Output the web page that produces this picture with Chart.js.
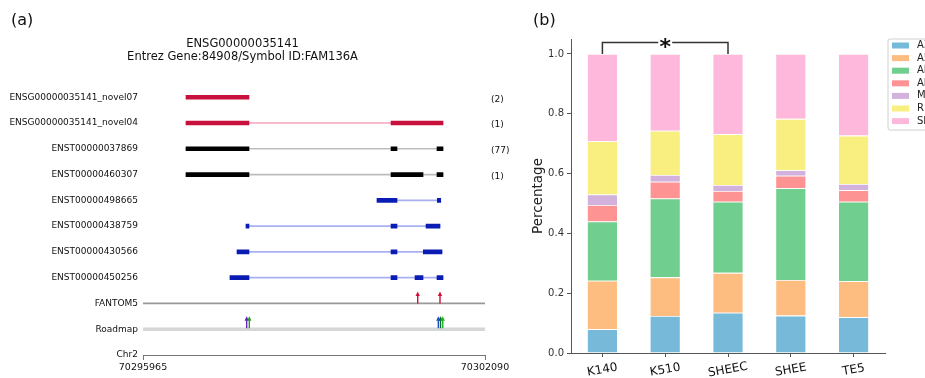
<!DOCTYPE html>
<html>
<head>
<meta charset="utf-8">
<script src="https://cdn.jsdelivr.net/npm/chart.js@4.4.1/dist/chart.umd.min.js"></script>
<style>
  body { margin: 0; width: 925px; height: 378px; overflow: hidden; position: relative; background: #fff; font-family: 'DejaVu Sans', sans-serif; }
  .panel-tag { position: absolute; top: 10px; font-size: 16px; line-height: 20px; color: #111; }
  #wrapA { position: absolute; left: 0; top: 0; width: 534px; height: 378px; }
  #wrapB { position: absolute; left: 510px; top: 0; width: 415px; height: 378px; }
</style>
</head>
<body>
<div id="wrapA"><canvas id="geneChart"></canvas></div>
<div id="wrapB"><canvas id="spliceChart"></canvas></div>
<div class="panel-tag" style="left:11px">(a)</div>
<div class="panel-tag" style="left:533px">(b)</div>
<script>
// ---- (a) transcript structures ----
const chrRange = [70295965, 70302090];
const transcripts = [
    'ENSG00000035141_novel07', 'ENSG00000035141_novel04',
    'ENST00000037869', 'ENST00000460307', 'ENST00000498665',
    'ENST00000438759', 'ENST00000430566', 'ENST00000450256'
];
const transcriptType = ['novel', 'novel', 'known', 'known', 'alt', 'alt', 'alt', 'alt'];
const readCounts = ['(2)', '(1)', '(77)', '(1)', '', '', '', ''];
const exons = [
    [[70296735, 70297863]],
    [[70296735, 70297863], [70300407, 70301338]],
    [[70296735, 70297863], [70300407, 70300514], [70301230, 70301338]],
    [[70296735, 70297863], [70300407, 70300980], [70301230, 70301338]],
    [[70300156, 70300514], [70301236, 70301297]],
    [[70297810, 70297863], [70300407, 70300514], [70301034, 70301284]],
    [[70297649, 70297863], [70300407, 70300514], [70300985, 70301320]],
    [[70297523, 70297863], [70300407, 70300514], [70300837, 70300980], [70301230, 70301338]]
];
const trackNames = ['FANTOM5', 'Roadmap', 'Chr2'];
const fantomSites = [70300885, 70301284];
const roadmapSites = [70297822, 70297869, 70301254, 70301293, 70301333];

// ---- (b) splicing event composition ----
const cellLines = ['K140', 'K510', 'SHEEC', 'SHEE', 'TE5'];
const eventTypes = ['A3', 'A5', 'AF', 'AL', 'MX', 'RI', 'SE'];
const A3 = [0.080, 0.124, 0.135, 0.125, 0.120];
const A5 = [0.162, 0.129, 0.133, 0.119, 0.120];
const AF = [0.198, 0.264, 0.238, 0.307, 0.266];
const AL = [0.055, 0.056, 0.036, 0.042, 0.038];
const MX = [0.035, 0.022, 0.020, 0.018, 0.021];
const RI = [0.178, 0.148, 0.170, 0.172, 0.162];
const SE = [0.292, 0.257, 0.268, 0.217, 0.273];
const yTicks = [0, 0.2, 0.4, 0.6, 0.8, 1.0];
const sigPair = [0, 2];
const sigLevel = 1.038;

const FONT = "'DejaVu Sans', sans-serif";

document.addEventListener('DOMContentLoaded', function () {
    const typeStyle = {
        novel: { exon: '#c8103c', line: '#f3a3b8' },
        known: { exon: '#000000', line: '#bdbdbd' },
        alt:   { exon: '#0a1cb4', line: '#a9b0f2' }
    };
    const rowLabels = transcripts.concat(trackNames);

    const geneSets = [];
    Object.keys(typeStyle).forEach(function (t) {
        const lines = [], blocks = [];
        transcripts.forEach(function (name, i) {
            if (transcriptType[i] !== t) return;
            const ex = exons[i];
            if (ex.length > 1) lines.push({ y: i, x: [ex[0][0], ex[ex.length - 1][1]] });
            ex.forEach(function (e) { blocks.push({ y: i, x: e }); });
        });
        geneSets.push({ data: lines, backgroundColor: typeStyle[t].line, barThickness: 1, order: 2 });
        geneSets.push({ data: blocks, backgroundColor: typeStyle[t].exon, barThickness: 4, order: 1 });
    });
    // FANTOM5 and Roadmap track lines
    geneSets.push({ data: [{ y: transcripts.length, x: chrRange }], backgroundColor: '#999999', barThickness: 1, order: 3 });
    geneSets.push({ data: [{ y: transcripts.length + 1, x: chrRange }], backgroundColor: '#d6d6d6', barThickness: 3, order: 3 });

    function arrow(ctx, x, yBase, color) {
        ctx.strokeStyle = color;
        ctx.fillStyle = color;
        ctx.lineWidth = 1.4;
        ctx.beginPath();
        ctx.moveTo(x, yBase);
        ctx.lineTo(x, yBase - 8);
        ctx.stroke();
        ctx.beginPath();
        ctx.moveTo(x, yBase - 12);
        ctx.lineTo(x - 2.2, yBase - 7.5);
        ctx.lineTo(x + 2.2, yBase - 7.5);
        ctx.closePath();
        ctx.fill();
    }

    const geneExtras = {
        id: 'geneExtras',
        afterDatasetsDraw(chart) {
            const { ctx, chartArea, scales: { x, y } } = chart;
            ctx.save();
            ctx.font = '9px ' + FONT;
            ctx.fillStyle = '#111';
            ctx.textBaseline = 'middle';
            readCounts.forEach(function (c, i) {
                if (c) ctx.fillText(c, chartArea.right + 6, y.getPixelForValue(i) + 2);
            });
            const yF = y.getPixelForValue(transcripts.length);
            fantomSites.forEach(function (p) { arrow(ctx, x.getPixelForValue(p), yF, '#d0103c'); });
            const roadColors = ['#6a1fc0', '#22a022', '#1f4fd0', '#0b6b2b', '#1fb01f'];
            const yR = y.getPixelForValue(transcripts.length + 1) - 1;
            roadmapSites.forEach(function (p, i) { arrow(ctx, x.getPixelForValue(p), yR, roadColors[i]); });
            ctx.restore();
        }
    };

    new Chart(document.getElementById('geneChart'), {
        type: 'bar',
        data: { datasets: geneSets },
        plugins: [geneExtras],
        options: {
            indexAxis: 'y',
            responsive: true,
            maintainAspectRatio: false,
            animation: false,
            grouped: false,
            layout: { padding: { left: 0, right: 49, top: 0, bottom: 0 } },
            plugins: {
                legend: { display: false },
                tooltip: { enabled: false },
                title: {
                    display: true,
                    text: ['ENSG00000035141', 'Entrez Gene:84908/Symbol ID:FAM136A'],
                    color: '#111',
                    font: { family: FONT, size: 11.5, weight: 'normal', lineHeight: 1.15 },
                    padding: { top: 37, bottom: 8 }
                }
            },
            scales: {
                x: {
                    type: 'linear',
                    min: chrRange[0],
                    max: chrRange[1],
                    afterBuildTicks: function (s) { s.ticks = chrRange.map(function (v) { return { value: v }; }); },
                    afterFit: function (s) { s.height = 23; },
                    ticks: {
                        color: '#111',
                        font: { family: FONT, size: 9.5 },
                        padding: 2,
                        maxRotation: 0,
                        callback: function (v) { return String(v); }
                    },
                    grid: { drawOnChartArea: false, drawTicks: true, tickLength: 5, color: '#777' },
                    border: { color: '#777' }
                },
                y: {
                    type: 'linear',
                    reverse: true,
                    offset: false,
                    min: -1,
                    max: rowLabels.length - 1,
                    afterBuildTicks: function (s) { s.ticks = rowLabels.map(function (_, i) { return { value: i }; }); },
                    afterFit: function (s) { s.width = 143; },
                    ticks: {
                        autoSkip: false,
                        color: '#111',
                        padding: 5,
                        font: { family: FONT, size: 9 },
                        callback: function (v) { return rowLabels[v]; }
                    },
                    grid: { display: false, drawTicks: false },
                    border: { display: false }
                }
            }
        }
    });

    // ---- (b) ----
    const seriesValues = [A3, A5, AF, AL, MX, RI, SE];
    const seriesColors = ['#77b9d9', '#fdbd80', '#70ce8f', '#fd9393', '#d2b1dd', '#f9ee80', '#fdb8dc'];

    const splicePlugin = {
        id: 'spliceExtras',
        afterDraw(chart) {
            const { ctx, chartArea, scales: { x, y } } = chart;
            ctx.save();
            // rotated category labels, centred under the ticks
            ctx.font = '12px ' + FONT;
            ctx.fillStyle = '#111';
            ctx.textAlign = 'center';
            ctx.textBaseline = 'middle';
            cellLines.forEach(function (lab, i) {
                ctx.save();
                ctx.translate(x.getPixelForValue(i), chartArea.bottom + 17);
                ctx.rotate(-10 * Math.PI / 180);
                ctx.fillText(lab, 0, 0);
                ctx.restore();
            });
            // significance bracket
            const x1 = x.getPixelForValue(sigPair[0]);
            const x2 = x.getPixelForValue(sigPair[1]);
            const yb = y.getPixelForValue(1.0);
            const yt = y.getPixelForValue(sigLevel);
            const xm = (x1 + x2) / 2;
            ctx.strokeStyle = '#333';
            ctx.lineWidth = 1.5;
            ctx.beginPath();
            ctx.moveTo(x1, yb); ctx.lineTo(x1, yt); ctx.lineTo(xm - 7, yt);
            ctx.moveTo(xm + 7, yt); ctx.lineTo(x2, yt); ctx.lineTo(x2, yb);
            ctx.stroke();
            ctx.font = 'bold 22px ' + FONT;
            ctx.textBaseline = 'alphabetic';
            const m = ctx.measureText('*');
            ctx.fillStyle = '#111';
            ctx.fillText('*', xm, yt + (m.actualBoundingBoxAscent - m.actualBoundingBoxDescent) / 2);
            // legend box (runs off the right edge as in the figure)
            const lx = chartArea.right + 3, ly = chartArea.top;
            ctx.beginPath();
            ctx.roundRect(lx, ly, 70, 91, 2);
            ctx.fillStyle = 'rgba(255,255,255,0.85)';
            ctx.fill();
            ctx.strokeStyle = '#d0d0d0';
            ctx.lineWidth = 1;
            ctx.stroke();
            ctx.font = '10px ' + FONT;
            ctx.textAlign = 'left';
            ctx.textBaseline = 'middle';
            eventTypes.forEach(function (t, i) {
                const cy = ly + 6.5 + i * 12.6;
                ctx.fillStyle = seriesColors[i];
                ctx.fillRect(lx + 4, cy - 3, 17, 6);
                ctx.fillStyle = '#222';
                ctx.fillText(t, lx + 29, cy);
            });
            ctx.restore();
        }
    };

    new Chart(document.getElementById('spliceChart'), {
        type: 'bar',
        data: {
            labels: cellLines,
            datasets: eventTypes.map(function (t, i) {
                return {
                    label: t,
                    data: seriesValues[i],
                    backgroundColor: seriesColors[i],
                    borderColor: 'rgba(255,255,255,0.7)',
                    borderWidth: 0.8,
                    categoryPercentage: 0.5,
                    barPercentage: 0.98
                };
            })
        },
        plugins: [splicePlugin],
        options: {
            responsive: true,
            maintainAspectRatio: false,
            animation: false,
            layout: { padding: { left: 20, right: 40, top: 39, bottom: 0 } },
            plugins: {
                legend: { display: false },
                tooltip: { enabled: false }
            },
            scales: {
                x: {
                    stacked: true,
                    afterFit: function (s) { s.height = 25; },
                    ticks: { display: false },
                    grid: { offset: false, drawOnChartArea: false, drawTicks: true, tickLength: 4, color: '#555' },
                    border: { color: '#555' }
                },
                y: {
                    stacked: true,
                    min: 0,
                    max: 1.05,
                    afterBuildTicks: function (s) { s.ticks = yTicks.map(function (v) { return { value: v }; }); },
                    afterFit: function (s) { s.width = 41; },
                    ticks: {
                        color: '#333',
                        padding: 3,
                        font: { family: FONT, size: 10 },
                        callback: function (v) { return v.toFixed(1); }
                    },
                    title: {
                        display: true,
                        text: 'Percentage',
                        color: '#222',
                        padding: 0,
                        font: { family: FONT, size: 13.5 }
                    },
                    grid: { drawOnChartArea: false, drawTicks: true, tickLength: 4, color: '#555' },
                    border: { color: '#555' }
                }
            }
        }
    });
});
</script>
</body>
</html>
